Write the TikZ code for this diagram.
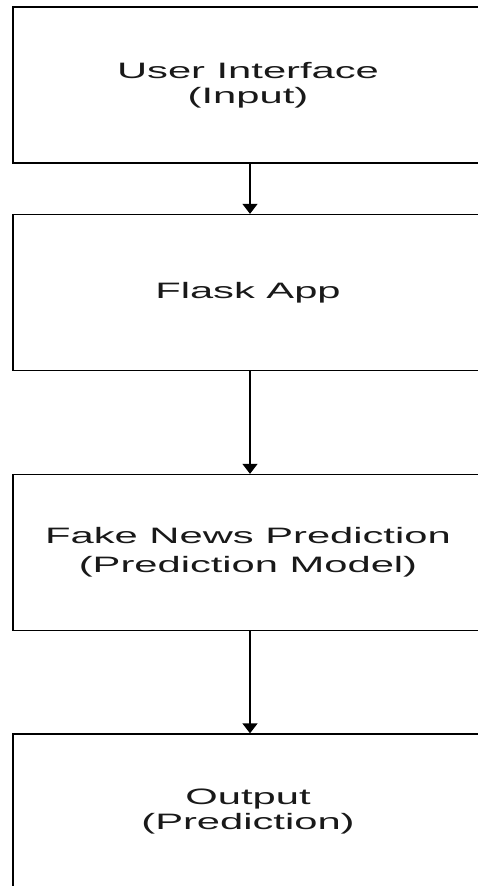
\documentclass[tikz,border=0pt]{standalone}
\usepackage{fontspec}
\usepackage{graphicx}
\setmainfont{Liberation Sans}
\usetikzlibrary{arrows.meta}
\newcommand\wide[1]{\scalebox{1.87}[1]{#1}}
\tikzset{
  stagebox/.style={draw=black, line width=1.3pt, fill=white,
    minimum width=470pt, minimum height=156pt, inner sep=0pt,
    align=center, text=black!90, font=\fontsize{22.3}{25}\selectfont},
  flowarrow/.style={draw=black, line width=1.3pt, -{Triangle[width=15pt,length=10pt]}}
}
\begin{document}
\begin{tikzpicture}[x=1pt,y=-1pt]
\useasboundingbox (0,0) rectangle (478,886);
\fill[white] (0,0) rectangle (478,886);
\begin{scope}
\clip (0,0) rectangle (478,886);
\node[stagebox] (ui) at (248,85) {\wide{User Interface}\\\wide{(Input)}};
\node[stagebox] (flask) at (248,292.5) {\wide{Flask App}};
\node[stagebox, font=\fontsize{22.3}{29}\selectfont] (pred) at (248,552.5) {\wide{Fake News Prediction}\\\wide{(Prediction Model)}};
\node[stagebox] (out) at (248,812) {\wide{Output}\\\wide{(Prediction)}};
\draw[flowarrow] ([xshift=2pt]ui.south) -- ([xshift=2pt]flask.north);
\draw[flowarrow] ([xshift=2pt]flask.south) -- ([xshift=2pt]pred.north);
\draw[flowarrow] ([xshift=2pt]pred.south) -- ([xshift=2pt]out.north);
\end{scope}
\end{tikzpicture}
\end{document}
